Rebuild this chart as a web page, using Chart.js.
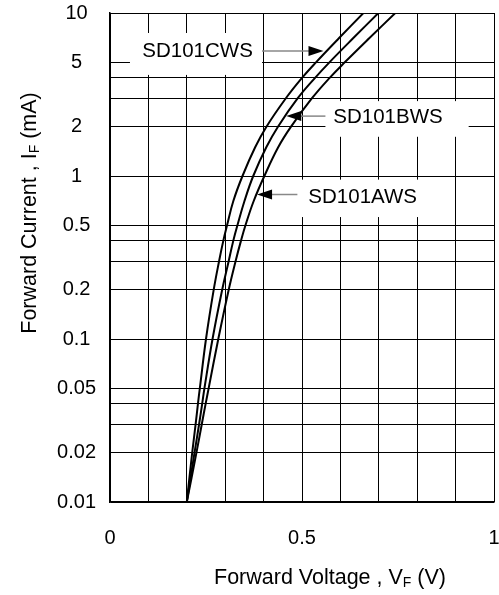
<!DOCTYPE html>
<html>
<head>
<meta charset="utf-8">
<script src="https://cdn.jsdelivr.net/npm/chart.js@4.4.1/dist/chart.umd.min.js"></script>
<style>
  body { margin: 0; background: #fff; }
  #wrap { width: 499px; height: 595px; }
</style>
</head>
<body>
<div id="wrap"><canvas id="myChart"></canvas></div>
<script>
// forward current (mA) where each curve was read
let current = [0.01, 0.02, 0.03, 0.04, 0.05, 0.1, 0.2, 0.3, 0.4, 0.5, 0.7, 1, 1.5, 2, 3, 4, 5, 7, 10];
// forward voltage (V) for each part
let vfC = [0.200, 0.214, 0.223, 0.229, 0.234, 0.250, 0.270, 0.284, 0.295, 0.305, 0.321, 0.345, 0.378, 0.407, 0.458, 0.500, 0.537, 0.596, 0.660];
let vfB = [0.200, 0.220, 0.232, 0.240, 0.246, 0.267, 0.292, 0.309, 0.321, 0.332, 0.350, 0.373, 0.407, 0.437, 0.489, 0.534, 0.572, 0.633, 0.699];
let vfA = [0.200, 0.225, 0.239, 0.249, 0.257, 0.282, 0.309, 0.327, 0.341, 0.353, 0.374, 0.402, 0.438, 0.471, 0.526, 0.572, 0.612, 0.675, 0.743];

let yGrid = [0.01, 0.02, 0.03, 0.04, 0.05, 0.1, 0.2, 0.3, 0.4, 0.5, 1, 2, 3, 4, 5, 10];
let yLabels = [0.01, 0.02, 0.05, 0.1, 0.2, 0.5, 1, 2, 5, 10];
let xLabels = [0, 0.5, 1];

// callout boxes: text, box [x0, x1, yTop, yBottom], text centre, arrow from -> tip
let callouts = [
    { text: "SD101CWS", box: [0.052, 0.396, 7.54, 4.17], at: [0.228, 5.85], from: [0.396, 5.85], tip: [0.556, 5.85] },
    { text: "SD101BWS", box: [0.561, 0.934, 2.88, 1.74], at: [0.724, 2.30], from: [0.561, 2.33], tip: [0.459, 2.33] },
    { text: "SD101AWS", box: [0.488, 0.834, 0.95, 0.56], at: [0.658, 0.74], from: [0.488, 0.77], tip: [0.383, 0.77] }
];

const FONT = "'Liberation Sans', Arial, sans-serif";

function pts(vs) {
    return vs.map((v, i) => ({ x: v, y: current[i] }));
}

function drawSubText(ctx, parts, cx, cy, size) {
    // parts: [text, isSub]
    let sub = Math.round(size * 0.65);
    let total = 0;
    parts.forEach(p => {
        ctx.font = (p[1] ? sub : size) + "px " + FONT;
        p.w = ctx.measureText(p[0]).width;
        total += p.w;
    });
    let x = cx - total / 2;
    parts.forEach(p => {
        ctx.font = (p[1] ? sub : size) + "px " + FONT;
        ctx.fillText(p[0], x, cy + (p[1] ? 5 : 0));
        x += p.w;
    });
}

const extras = {
    id: "extras",
    beforeDatasetsDraw(chart) {
        let ctx = chart.ctx;
        let xs = chart.scales.x, ys = chart.scales.y;
        ctx.save();
        callouts.forEach(c => {
            let x0 = xs.getPixelForValue(c.box[0]), x1 = xs.getPixelForValue(c.box[1]);
            let y0 = ys.getPixelForValue(c.box[2]), y1 = ys.getPixelForValue(c.box[3]);
            ctx.fillStyle = "#fff";
            ctx.fillRect(x0, y0, x1 - x0, y1 - y0);

            ctx.fillStyle = "#000";
            ctx.font = "20.5px " + FONT;
            ctx.textAlign = "center";
            ctx.textBaseline = "middle";
            ctx.fillText(c.text, xs.getPixelForValue(c.at[0]), ys.getPixelForValue(c.at[1]));

            let fx = xs.getPixelForValue(c.from[0]), fy = ys.getPixelForValue(c.from[1]);
            let tx = xs.getPixelForValue(c.tip[0]), ty = ys.getPixelForValue(c.tip[1]);
            let dir = tx > fx ? 1 : -1;
            ctx.strokeStyle = "#888";
            ctx.lineWidth = 1.5;
            ctx.beginPath();
            ctx.moveTo(fx, fy);
            ctx.lineTo(tx - dir * 12, ty);
            ctx.stroke();
            ctx.fillStyle = "#000";
            ctx.beginPath();
            ctx.moveTo(tx, ty);
            ctx.lineTo(tx - dir * 15, ty - 5);
            ctx.lineTo(tx - dir * 15, ty + 5);
            ctx.closePath();
            ctx.fill();
        });
        ctx.restore();
    },
    afterDraw(chart) {
        let ctx = chart.ctx;
        ctx.save();
        ctx.fillStyle = "#000";
        ctx.textAlign = "left";
        ctx.textBaseline = "middle";
        drawSubText(ctx, [["Forward Voltage , V", false], ["F", true], [" (V)", false]], 330, 578, 21.5);
        ctx.translate(30, 213);
        ctx.rotate(-Math.PI / 2);
        drawSubText(ctx, [["Forward Current , I", false], ["F", true], [" (mA)", false]], 0, 0, 21.5);
        ctx.restore();
    }
};

function curve(label, vs) {
    return {
        label: label,
        data: pts(vs),
        borderColor: "#000",
        borderWidth: 2,
        pointRadius: 0,
        tension: 0.4,
        fill: false
    };
}

let chart = new Chart("myChart", {
    type: "line",
    data: {
        datasets: [curve("SD101CWS", vfC), curve("SD101BWS", vfB), curve("SD101AWS", vfA)]
    },
    options: {
        responsive: true,
        maintainAspectRatio: false,
        animation: false,
        layout: { padding: { top: 13, left: 0, right: 5, bottom: 0 } },
        plugins: {
            legend: { display: false },
            tooltip: { enabled: false }
        },
        scales: {
            x: {
                type: "linear",
                min: 0,
                max: 1,
                afterFit: s => { s.height = 93; s.paddingLeft = 0; s.paddingRight = 0; },
                grid: { color: "#000", lineWidth: 1, drawTicks: false },
                border: { color: "#000", width: 1.5 },
                ticks: {
                    stepSize: 0.1,
                    autoSkip: false,
                    maxRotation: 0,
                    padding: 24,
                    color: "#000",
                    font: { family: FONT, size: 20 },
                    callback: v => xLabels.some(l => Math.abs(l - v) < 1e-6) ? String(Math.round(v * 10) / 10) : ""
                }
            },
            y: {
                type: "logarithmic",
                min: 0.01,
                max: 10,
                afterFit: s => { s.width = 110; s.paddingTop = 0; s.paddingBottom = 0; },
                afterBuildTicks: s => { s.ticks = yGrid.map(v => ({ value: v })); },
                grid: { color: "#000", lineWidth: 1, drawTicks: false },
                border: { color: "#000", width: 1.5 },
                ticks: {
                    autoSkip: false,
                    crossAlign: "center",
                    padding: 14,
                    color: "#000",
                    font: { family: FONT, size: 20 },
                    callback: v => yLabels.some(l => Math.abs(l - v) < 1e-9) ? String(v) : ""
                }
            }
        }
    },
    plugins: [extras]
});
</script>
</body>
</html>
